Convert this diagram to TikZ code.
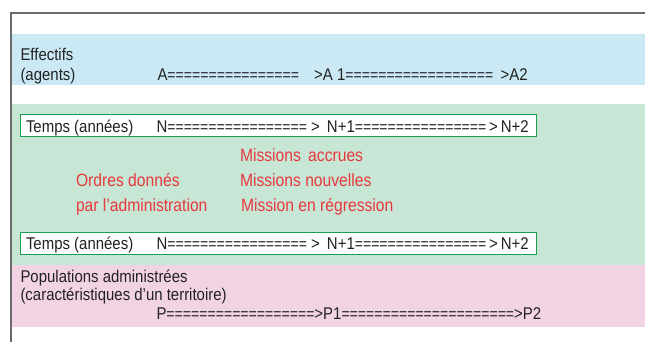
\documentclass[tikz,border=0pt]{standalone}
\usepackage{fontspec}
\setmainfont{Liberation Sans}[FakeStretch=0.88]
\definecolor{bandblue}{HTML}{CBE9F4}
\definecolor{bandgreen}{HTML}{C8E6D5}
\definecolor{bandpink}{HTML}{F2D3E4}
\definecolor{boxgreen}{HTML}{1A9E50}
\definecolor{framegray}{HTML}{6A6A6A}
\definecolor{txt}{HTML}{222222}
\definecolor{redtxt}{HTML}{E6383D}
\newcommand\eqrun[1]{{\fontsize{16}{18}\selectfont #1}}
\tikzset{
  lbl/.style={inner sep=0pt, outer sep=0pt, anchor=base west, text=txt,
    font=\fontsize{17}{18}\selectfont},
  redlbl/.style={lbl, text=redtxt, font=\fontsize{17.8}{18}\selectfont},
  tbox/.style={draw=boxgreen, line width=1.4pt, fill=white, inner sep=0pt,
    anchor=north west, minimum width=516pt, minimum height=22pt},
  framestyle/.style={draw=framegray, line width=1.6pt}
}
\begin{document}
\begin{tikzpicture}[x=1pt,y=-1pt]
\useasboundingbox (0,0) rectangle (645,342);
% bands
\fill[bandblue] (11,34) rectangle (645,85);
\fill[bandgreen] (11,104) rectangle (645,265);
\fill[bandpink] (11,265) rectangle (645,327);
% frame
\draw[framestyle] (10.8,342) -- (10.8,13.3) -- (645,13.3);
% boxes
\node[tbox] (box1) at (20,114) {};
\node[tbox] (box2) at (20,231.5) {};
% Effectifs
\node[lbl] (eff) at (20.5,61) {Effectifs};
\node[lbl] (agents) at (20.5,81) {(agents)};
\node[lbl] (arow) at (157.5,81) {A\eqrun{================}\hspace{11pt} >A 1\eqrun{==================}\hspace{3pt} >A2};
% Temps 1
\node[lbl] (temps1) at (26,132.5) {Temps (années)};
\node[lbl] (nrow1) at (156.5,132.5) {N\eqrun{=================} > \,N+1\eqrun{================}\,>\,N+2};
% red texts
\node[redlbl] (m1) at (240,161) {Missions \,accrues};
\node[redlbl] (m2) at (240,186.5) {Missions nouvelles};
\node[redlbl] (m3) at (241,211) {Mission en régression};
\node[redlbl] (o1) at (76,186) {Ordres donnés};
\node[redlbl] (o2) at (76,211.5) {par l’administration};
% Temps 2
\node[lbl] (temps2) at (26,249) {Temps (années)};
\node[lbl] (nrow2) at (156.5,249) {N\eqrun{=================} > \,N+1\eqrun{================}\,>\,N+2};
% Populations
\node[lbl] (pop) at (20.5,282) {Populations administrées};
\node[lbl] (carac) at (20.5,300) {(caractéristiques d’un territoire)};
\node[lbl] (prow) at (156.5,319) {P\eqrun{==================}>P1\eqrun{=====================}>P2};
\end{tikzpicture}
\end{document}
